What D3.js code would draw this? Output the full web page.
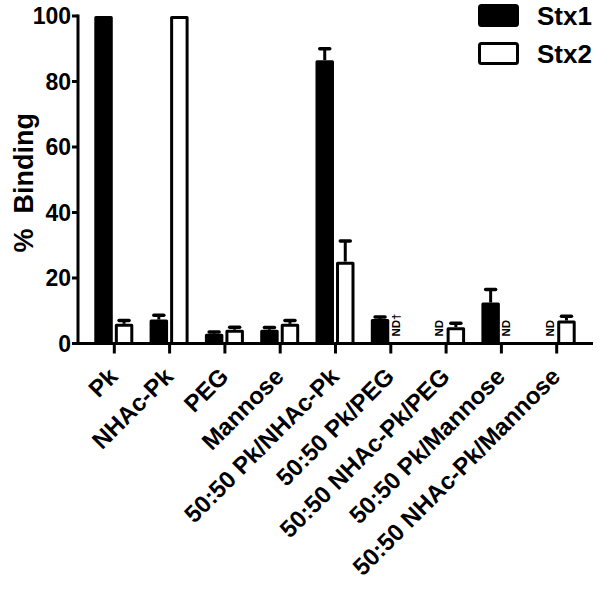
<!DOCTYPE html>
<html><head><meta charset="utf-8">
<script src="https://cdn.jsdelivr.net/npm/d3@7"></script>
<style>body{margin:0;background:#fff}svg{display:block}text{font-family:"Liberation Sans",Arial,sans-serif;font-weight:bold}</style>
</head><body><svg id="c" width="600" height="589"></svg>
<script>
const categories = ["Pk","NHAc-Pk","PEG","Mannose","50:50 Pk/NHAc-Pk","50:50 Pk/PEG","50:50 NHAc-Pk/PEG","50:50 Pk/Mannose","50:50 NHAc-Pk/Mannose"];
const seriesNames = ["Stx1","Stx2"];
const stx1 = [100, 7.3, 3.0, 4.2, 86.5, 7.5, null, 12.5, null];
const stx1Err = [0, 1.3, 0.5, 0.7, 3.5, 0.6, null, 4.0, null];
const stx2 = [6.0, 100, 4.2, 6.0, 25.0, null, 5.0, null, 7.0];
const stx2Err = [1.0, 0, 0.8, 1.0, 6.3, null, 1.2, null, 1.3];
const ndLabels = [null, null, null, null, null, "ND\u2020", "ND", "ND", "ND"];
const yTicks = [0, 20, 40, 60, 80, 100];

const svg = d3.select("#c");
const y = d3.scaleLinear().domain([0, 100]).range([343.5, 16]);
const x0 = d3.scaleBand().domain(categories).range([86.65, 584.35]).padding(0);
const x1 = d3.scaleBand().domain(seriesNames).range([-20, 19]).paddingInner(0.1);
const cx = c => x0(c) + x0.bandwidth() / 2;

// bars
const data = [];
categories.forEach((c, i) => {
  data.push({c, s: "Stx1", v: stx1[i], e: stx1Err[i]});
  data.push({c, s: "Stx2", v: stx2[i], e: stx2Err[i]});
});
const valid = data.filter(d => d.v != null);
const g = svg.append("g");
// error bars
valid.filter(d => d.e > 0).forEach(d => {
  const mx = cx(d.c) + x1(d.s) + x1.bandwidth() / 2;
  g.append("line").attr("x1", mx).attr("x2", mx).attr("y1", y(d.v)).attr("y2", y(d.v + d.e))
    .attr("stroke", "#000").attr("stroke-width", 3);
  g.append("line").attr("x1", mx - 5).attr("x2", mx + 5).attr("y1", y(d.v + d.e)).attr("y2", y(d.v + d.e))
    .attr("stroke", "#000").attr("stroke-width", 3.5).attr("stroke-linecap", "round");
});
g.selectAll("rect.bar").data(valid).join("rect").attr("class", "bar")
  .attr("x", d => cx(d.c) + x1(d.s) + 1.5)
  .attr("width", x1.bandwidth() - 3)
  .attr("y", d => y(d.v) + 1.5)
  .attr("height", d => Math.max(0, y(0) - y(d.v) - 1.5))
  .attr("fill", d => d.s === "Stx1" ? "#000" : "#fff")
  .attr("stroke", "#000").attr("stroke-width", 3).attr("stroke-linejoin", "round");

// ND labels
categories.forEach((c, i) => {
  if (!ndLabels[i]) return;
  const s = stx1[i] == null ? "Stx1" : "Stx2";
  const bx = cx(c) + x1(s) + x1.bandwidth() / 2 + (s === "Stx1" ? 8 : -1);
  svg.append("text").attr("transform", `translate(${bx},${y(0) - 7}) rotate(-90)`)
    .attr("font-size", 11.5).text(ndLabels[i]);
});

// axes
svg.append("line").attr("x1", 78).attr("x2", 78).attr("y1", y(0) + 1.5).attr("y2", y(100) - 1.5)
  .attr("stroke", "#000").attr("stroke-width", 3);
svg.append("line").attr("x1", 76.5).attr("x2", 593).attr("y1", y(0)).attr("y2", y(0))
  .attr("stroke", "#000").attr("stroke-width", 3);
yTicks.forEach(t => {
  svg.append("line").attr("x1", 72).attr("x2", 78).attr("y1", y(t)).attr("y2", y(t))
    .attr("stroke", "#000").attr("stroke-width", 3);
  svg.append("text").attr("x", 71).attr("y", y(t)).attr("dy", "0.36em").attr("text-anchor", "end")
    .attr("font-size", 23).text(t);
});
categories.forEach(c => {
  svg.append("line").attr("x1", cx(c)).attr("x2", cx(c)).attr("y1", y(0)).attr("y2", y(0) + 10)
    .attr("stroke", "#000").attr("stroke-width", 3);
  svg.append("text").attr("transform", `translate(${cx(c) + 5},${378}) rotate(-45)`)
    .attr("text-anchor", "end").attr("font-size", 24).text(c);
});
svg.append("text").attr("transform", `translate(33,${(y(0) + y(100)) / 2 + 3}) rotate(-90)`)
  .attr("text-anchor", "middle").attr("font-size", 27).attr("xml:space", "preserve").text("%  Binding");

// legend
const leg = svg.append("g");
seriesNames.forEach((s, i) => {
  leg.append("rect").attr("x", 479.5).attr("y", 5.5 + i * 38).attr("width", 38).attr("height", 20)
    .attr("rx", 2).attr("fill", s === "Stx1" ? "#000" : "#fff").attr("stroke", "#000").attr("stroke-width", 3);
  leg.append("text").attr("x", 537).attr("y", 25 + i * 38).attr("font-size", 26).text(s);
});
</script></body></html>
